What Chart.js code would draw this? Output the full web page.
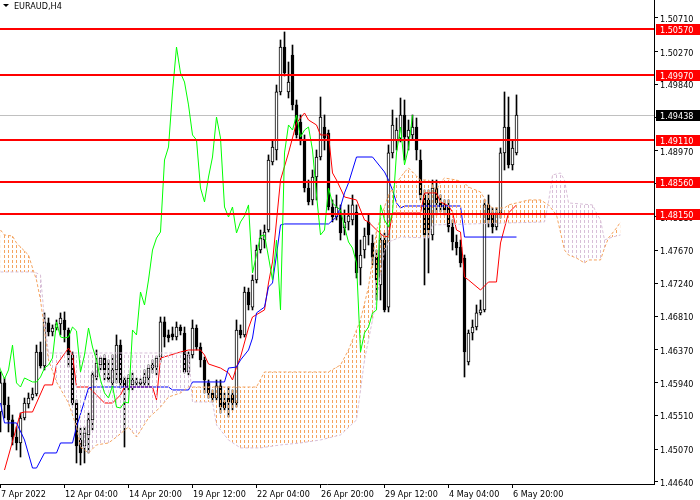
<!DOCTYPE html>
<html><head><meta charset="utf-8">
<script src="https://cdn.jsdelivr.net/npm/chart.js@4.4.0/dist/chart.umd.min.js"></script>
<style>html,body{margin:0;padding:0;background:#fff;}canvas{display:block;}</style>
</head><body>
<canvas id="c" width="700" height="500"></canvas>
<script>
// ---------------- data ----------------
const symbolTitle = 'EURAUD,H4';
// H4 candles, bar 0 .. bar 129
const opens = [1.45555,1.45935,1.45647,1.45451,1.45228,1.45150,1.45477,1.45660,1.45738,1.45791,
1.46340,1.46157,1.46720,1.46602,1.46654,1.46707,1.46759,1.46628,1.46301,1.45673,
1.45189,1.45111,1.45255,1.45451,1.46013,1.46170,1.46261,1.46013,1.45935,1.46105,
1.46431,1.45974,1.45882,1.45909,1.45935,1.45922,1.45935,1.46000,1.46130,1.46143,
1.46274,1.46733,1.46563,1.46576,1.46536,1.46667,1.46589,1.46079,1.46301,1.46654,
1.46405,1.46235,1.45935,1.45804,1.45738,1.45896,1.45686,1.45738,1.45778,1.45673,
1.46628,1.46563,1.47125,1.46928,1.47282,1.47674,1.47805,1.47936,1.48826,1.48983,
1.49742,1.50330,1.49742,1.50226,1.49572,1.49349,1.49114,1.48485,1.48329,1.48629,
1.48891,1.49283,1.49205,1.48237,1.48106,1.48159,1.47962,1.48041,1.48067,1.48172,
1.47439,1.47674,1.48041,1.47766,1.47582,1.47217,1.47805,1.46928,1.48944,1.49114,
1.49139,1.49441,1.49152,1.49179,1.49283,1.48852,1.48394,1.48329,1.47871,1.48485,
1.48290,1.48264,1.48237,1.47975,1.47779,1.47713,1.47569,1.46209,1.46589,1.46667,
1.46851,1.46890,1.48264,1.48159,1.47975,1.48159,1.48944,1.49283,1.48787,1.48944];
const highs = [1.46079,1.46000,1.45751,1.45516,1.45359,1.45542,1.45738,1.45804,1.45869,1.46431,
1.46471,1.46851,1.46785,1.46694,1.46759,1.46851,1.46864,1.46654,1.46340,1.45712,
1.45346,1.45359,1.45542,1.46079,1.46366,1.46274,1.46301,1.46235,1.46301,1.46563,
1.46497,1.46013,1.46040,1.46066,1.46000,1.45987,1.46105,1.46170,1.46235,1.46288,
1.46798,1.46798,1.46628,1.46667,1.46733,1.46694,1.46667,1.46340,1.46759,1.46694,
1.46458,1.46274,1.45974,1.45843,1.45974,1.45974,1.45804,1.45882,1.45843,1.46759,
1.46694,1.47190,1.47177,1.47347,1.47739,1.47936,1.48002,1.48918,1.49114,1.49833,
1.50422,1.50527,1.50134,1.50356,1.49637,1.49441,1.49179,1.48590,1.48721,1.48983,
1.49676,1.49441,1.49244,1.48329,1.48394,1.48264,1.48198,1.48264,1.48394,1.48264,
1.47805,1.47962,1.48133,1.47871,1.47674,1.47871,1.47897,1.49049,1.49506,1.49401,
1.49663,1.49637,1.49375,1.49441,1.49401,1.48983,1.48459,1.48459,1.48590,1.48590,
1.48394,1.48329,1.48329,1.48067,1.47871,1.47805,1.47609,1.46628,1.46759,1.46955,
1.47020,1.48329,1.48394,1.48224,1.48224,1.49009,1.49742,1.49676,1.49114,1.49703];
const lows = [1.45294,1.45477,1.45294,1.45124,1.45058,1.44966,1.45451,1.45607,1.45712,1.45765,
1.46130,1.46105,1.46550,1.46550,1.46628,1.46563,1.46471,1.46143,1.45647,1.44888,
1.44862,1.44888,1.45019,1.45320,1.45974,1.46105,1.45974,1.45948,1.45882,1.45935,
1.45869,1.45097,1.45843,1.45843,1.45896,1.45882,1.45882,1.45882,1.46066,1.46040,
1.46209,1.46405,1.46471,1.46497,1.46497,1.46563,1.46066,1.46040,1.46261,1.46366,
1.46143,1.45804,1.45738,1.45686,1.45712,1.45542,1.45581,1.45489,1.45581,1.45620,
1.46523,1.46536,1.46890,1.46890,1.47243,1.47635,1.47700,1.47910,1.48787,1.48852,
1.49703,1.49951,1.49663,1.49506,1.49139,1.49049,1.48433,1.48264,1.48264,1.48329,
1.48852,1.48983,1.48198,1.48041,1.48067,1.47805,1.47871,1.47936,1.48002,1.47308,
1.47217,1.47569,1.47740,1.47479,1.47020,1.47020,1.46864,1.46864,1.48878,1.48983,
1.49088,1.48852,1.48983,1.49114,1.48852,1.48329,1.47217,1.47374,1.47805,1.48133,
1.48172,1.48133,1.47910,1.47674,1.47609,1.47452,1.46013,1.46170,1.46497,1.46628,
1.46825,1.46864,1.47975,1.47897,1.47936,1.48093,1.48721,1.48747,1.48721,1.48918];
const closes = [1.45935,1.45647,1.45451,1.45228,1.45150,1.45477,1.45673,1.45738,1.45791,1.46340,
1.46157,1.46733,1.46602,1.46654,1.46707,1.46785,1.46628,1.46301,1.45673,1.45111,
1.45019,1.45281,1.45451,1.46040,1.46196,1.46261,1.46105,1.45987,1.46105,1.46431,
1.45935,1.45882,1.46000,1.45974,1.45948,1.45948,1.46013,1.46130,1.46170,1.46261,
1.46733,1.46536,1.46523,1.46536,1.46667,1.46615,1.46079,1.46301,1.46654,1.46405,
1.46235,1.45974,1.45804,1.45738,1.45896,1.45620,1.45607,1.45686,1.45673,1.46628,
1.46563,1.47125,1.46955,1.47282,1.47674,1.47831,1.47910,1.48852,1.49022,1.49742,
1.50330,1.49990,1.49872,1.49572,1.49179,1.49114,1.48485,1.48303,1.48629,1.48891,
1.49414,1.49139,1.48237,1.48106,1.48237,1.47897,1.48041,1.48120,1.48264,1.47374,
1.47609,1.47858,1.47871,1.47582,1.47282,1.47805,1.46890,1.48944,1.49310,1.49244,
1.49441,1.49152,1.49244,1.49283,1.48983,1.48394,1.47871,1.47936,1.48485,1.48290,
1.48237,1.48198,1.47975,1.47779,1.47700,1.47505,1.46340,1.46589,1.46667,1.46851,
1.46890,1.48264,1.48067,1.47975,1.48159,1.48944,1.49283,1.48787,1.49009,1.49438];

// Ichimoku lines (bar index -> price) read where the lines turn
const tenkanBars = [1,5,6,8,11,13,14,17,18,19,22,24,26,28,30,31,38,39,40,45,47,50,51,52,55,57,58,59,60,62,63,66,67,68,70,72,74,76,77,79,80,82,83,84,86,89,91,92,94,96,97,98,105,106,109,110,112,113,114,115,116,117,120,122,124,125,127,129];
const tenkanValues = [1.44796,1.45542,1.45555,1.45555,1.45909,1.45909,1.46170,1.46392,1.46301,1.45882,1.45882,1.45778,1.45673,1.45673,1.45778,1.45882,1.45882,1.45712,1.46261,1.46340,1.46366,1.46366,1.46301,1.46183,1.46130,1.46066,1.45974,1.46143,1.46274,1.46654,1.46798,1.46890,1.47243,1.47518,1.48590,1.48944,1.49336,1.49467,1.49375,1.49310,1.49179,1.49179,1.48682,1.48590,1.48368,1.48329,1.48067,1.48041,1.47936,1.47844,1.47857,1.48159,1.48159,1.48421,1.48421,1.48303,1.48250,1.48172,1.47936,1.47910,1.47321,1.47282,1.47151,1.47256,1.47256,1.47766,1.48159,1.48264];
const kijunBars = [0,1,4,6,8,9,11,14,15,18,19,22,23,42,43,47,48,56,57,59,60,62,63,64,66,67,68,69,70,71,82,84,85,86,87,88,89,93,94,96,97,98,99,100,101,115,116,129];
const kijunValues = [1.45673,1.45412,1.45412,1.45189,1.44822,1.44822,1.45019,1.45019,1.45150,1.45150,1.45359,1.45869,1.45882,1.45882,1.45843,1.45843,1.45948,1.45948,1.46130,1.46143,1.46235,1.46366,1.46523,1.46851,1.46928,1.47190,1.47243,1.47609,1.48002,1.48015,1.48015,1.48106,1.48237,1.48421,1.48551,1.48721,1.48891,1.48891,1.48826,1.48695,1.48590,1.48459,1.48290,1.48224,1.48250,1.48250,1.47844,1.47844];
const spanABars = [0,1,3,4,5,7,8,9,10,11,12,14,17,19,20,22,24,27,29,32,34,37,40,42,45,47,64,66,82,85,87,89,90,92,93,94,96,97,99,101,102,104,105,107,109,110,111,114,116,117,120,122,123,126,127,130,132,135,137,139,141,142,144,146,147,150,151,152,154,155];
const spanAValues = [1.47936,1.47871,1.47857,1.47766,1.47713,1.47609,1.47439,1.47282,1.47020,1.46628,1.46235,1.45948,1.45673,1.45359,1.45097,1.45019,1.45124,1.45150,1.45228,1.45359,1.45228,1.45477,1.45620,1.45751,1.45804,1.45882,1.45882,1.46079,1.46079,1.46170,1.46366,1.46628,1.46759,1.47190,1.47544,1.47936,1.48237,1.48394,1.48551,1.48695,1.48747,1.48643,1.48590,1.48590,1.48459,1.48564,1.48616,1.48590,1.48551,1.48498,1.48433,1.48264,1.48224,1.48224,1.48264,1.48303,1.48329,1.48329,1.48264,1.48133,1.47674,1.47609,1.47569,1.47505,1.47544,1.47544,1.47700,1.47832,1.47962,1.48041];
const spanBBars = [0,8,9,10,11,12,47,48,53,54,57,60,65,70,75,80,85,89,91,94,96,97,100,107,108,136,137,138,140,141,142,148,149,150,151,153,155];
const spanBValues = [1.47387,1.47387,1.47374,1.47348,1.46759,1.46327,1.46327,1.45686,1.45686,1.45385,1.45189,1.45085,1.45085,1.45124,1.45150,1.45189,1.45255,1.45451,1.46235,1.47020,1.47674,1.47779,1.47844,1.47832,1.48002,1.48041,1.48303,1.48656,1.48682,1.48590,1.48290,1.48264,1.48159,1.48067,1.47805,1.47844,1.47871];
const chikouShift = 26; // the chikou span is the close line drawn 26 bars back

const levelPrices = [1.50570, 1.49970, 1.49110, 1.48560, 1.48150];
const bidPrice = 1.49438;
const priceTicks = [1.50710,1.50270,1.49840,1.49410,1.48970,1.48540,1.48110,1.47670,1.47240,1.46810,1.46370,1.45940,1.45510,1.45070,1.44640];
const dateLabels = ['7 Apr 2022','12 Apr 04:00','14 Apr 20:00','19 Apr 12:00','22 Apr 04:00','26 Apr 20:00','29 Apr 12:00','4 May 04:00','6 May 20:00'];
const dateBars = [1,17,33,49,65,81,97,113,129];

// ---------------- drawing ----------------
const FONT = '9px "DejaVu Sans Condensed", "DejaVu Sans", sans-serif';
const barIdx = opens.map((_, i) => i);
const pts = (xs, ys) => xs.map((x, i) => ({x, y: ys[i]}));

function hatch(color) {
  const c = document.createElement('canvas');
  c.width = 4; c.height = 5;
  const g = c.getContext('2d');
  g.fillStyle = color; g.fillRect(0, 0, 1, 3);
  return g.createPattern(c, 'repeat');
}
const orangeHatch = hatch('#F4A460');
const thistleHatch = hatch('#D8BFD8');

const overlay = {
  id: 'overlay',
  beforeDatasetsDraw(chart) {
    const {ctx, chartArea: a, scales: {y}} = chart;
    const py = Math.round(y.getPixelForValue(bidPrice)) + 0.5;
    ctx.save(); ctx.strokeStyle = '#C0C0C0'; ctx.lineWidth = 1;
    ctx.beginPath(); ctx.moveTo(a.left, py); ctx.lineTo(a.right, py); ctx.stroke(); ctx.restore();
  },
  afterDatasetsDraw(chart) {
    const {ctx, chartArea: a, scales: {y}} = chart;
    ctx.save(); ctx.fillStyle = '#FF0000';
    levelPrices.forEach(p => {
      const py = Math.round(y.getPixelForValue(p));
      ctx.fillRect(a.left, py - 1, a.right - a.left, 2);
    });
    ctx.restore();
  },
  afterDraw(chart) {
    const {ctx, chartArea: a, scales: {x, y}} = chart;
    ctx.save();
    ctx.font = FONT; ctx.textBaseline = 'alphabetic'; ctx.textAlign = 'left';
    // title
    ctx.fillStyle = '#000';
    ctx.beginPath(); ctx.moveTo(3, 4); ctx.lineTo(9, 4); ctx.lineTo(6, 7); ctx.closePath(); ctx.fill();
    ctx.fillText(symbolTitle, 14, 9);
    // price scale
    priceTicks.forEach(p => {
      const py = Math.round(y.getPixelForValue(p));
      ctx.fillText(p.toFixed(5), a.right + 6, py + 4);
    });
    const box = (p, bg) => {
      const py = Math.round(y.getPixelForValue(p));
      ctx.fillStyle = bg; ctx.fillRect(a.right + 2, py - 5, 700 - a.right - 2, 11);
      ctx.fillStyle = '#FFFFFF'; ctx.fillText(p.toFixed(5), a.right + 6, py + 4);
    };
    levelPrices.forEach(p => box(p, '#FF0000'));
    box(bidPrice, '#000000');
    // time scale
    ctx.fillStyle = '#000';
    dateBars.forEach((b, i) => {
      const px = Math.round(x.getPixelForValue(b - 1.125));
      ctx.fillText(dateLabels[i], px + 1, 497);
    });
    ctx.restore();
  }
};

new Chart(document.getElementById('c'), {
  type: 'bar',
  data: {
    datasets: [
      { type: 'line', label: 'Chikou', data: closes.map((c, i) => ({x: i - chikouShift, y: c})).filter(p => p.x >= -1),
        borderColor: '#00FF00', borderWidth: 1, pointRadius: 0, tension: 0, fill: false, order: 4 },
      { type: 'line', label: 'Senkou B', data: pts(spanBBars, spanBValues),
        borderColor: '#D8BFD8', borderWidth: 1, borderDash: [3, 2], pointRadius: 0, tension: 0, fill: false, order: 5 },
      { type: 'line', label: 'Senkou A', data: pts(spanABars, spanAValues),
        borderColor: '#F4A460', borderWidth: 1, borderDash: [3, 2], pointRadius: 0, tension: 0,
        fill: { target: 1, above: orangeHatch, below: thistleHatch }, order: 6 },
      { type: 'line', label: 'Kijun', data: pts(kijunBars, kijunValues),
        borderColor: '#0000FF', borderWidth: 1, pointRadius: 0, tension: 0, fill: false, order: 7 },
      { type: 'line', label: 'Tenkan', data: pts(tenkanBars, tenkanValues),
        borderColor: '#FF0000', borderWidth: 1, pointRadius: 0, tension: 0, fill: false, order: 8 },
      { label: 'Bodies', data: barIdx.map(i => ({x: i, y: [opens[i], closes[i]]})),
        backgroundColor: c => (closes[c.dataIndex] >= opens[c.dataIndex] ? '#FFFFFF' : '#000000'),
        borderColor: '#000000', borderWidth: 1, borderSkipped: false, barThickness: 3, minBarLength: 1,
        grouped: false, order: 9 },
      { label: 'Wicks', data: barIdx.map(i => ({x: i, y: [lows[i], highs[i]]})),
        backgroundColor: '#000000', borderWidth: 0, barThickness: 1, grouped: false, order: 10 }
    ]
  },
  options: {
    responsive: false, animation: false, events: [],
    layout: { padding: 0 },
    plugins: { legend: { display: false }, tooltip: { enabled: false }, title: { display: false } },
    scales: {
      x: { type: 'linear', min: -0.125, max: 163.375, offset: false,
        grid: { display: true, drawOnChartArea: false, drawTicks: true, tickLength: 4, color: '#000', offset: false },
        border: { display: true, color: '#000', width: 1 },
        ticks: { display: false },
        afterBuildTicks: s => { s.ticks = dateBars.map(b => ({ value: b - 1.125 })); },
        afterFit: s => { s.height = 16; } },
      y: { type: 'linear', position: 'right', min: 1.44613, max: 1.50945,
        grid: { display: true, drawOnChartArea: false, drawTicks: true, tickLength: 4, color: '#000' },
        border: { display: true, color: '#000', width: 1 },
        ticks: { display: false },
        afterBuildTicks: s => { s.ticks = priceTicks.map(v => ({ value: v })); },
        afterFit: s => { s.width = 46; } }
    }
  },
  plugins: [overlay]
});
</script>
</body></html>
